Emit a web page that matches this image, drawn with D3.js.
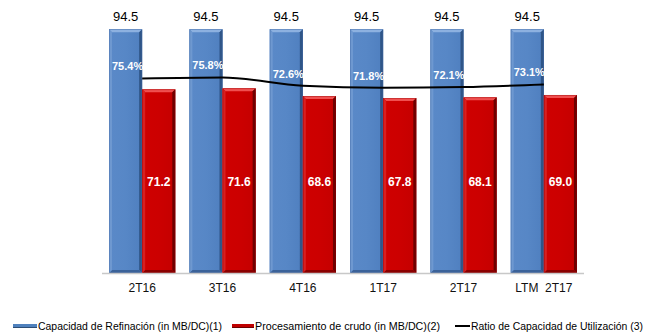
<!DOCTYPE html>
<html>
<head>
<meta charset="utf-8">
<script src="https://cdn.jsdelivr.net/npm/d3@7"></script>
<style>
  html, body { margin: 0; padding: 0; background: #fff; }
  svg { display: block; font-family: "Liberation Sans", Arial, sans-serif; }
</style>
</head>
<body>
<svg id="chart" width="651" height="335"></svg>
<script>
const categories = ["2T16", "3T16", "4T16", "1T17", "2T17", "LTM  2T17"];
const capacidad = [94.5, 94.5, 94.5, 94.5, 94.5, 94.5];
const procesamiento = [71.2, 71.6, 68.6, 67.8, 68.1, 69.0];
const ratio = [75.4, 75.8, 72.6, 71.8, 72.1, 73.1];
const legendLabels = [
  "Capacidad de Refinación (in MB/DC)(1)",
  "Procesamiento de crudo (in MB/DC)(2)",
  "Ratio de Capacidad de Utilización (3)"
];

const svg = d3.select("#chart");
const x0 = 102, x1 = 584, yBase = 273, yTop = 15;

const x = d3.scaleBand().domain(categories).range([x0, x1]).paddingInner(0.175).paddingOuter(0.0875);
const xs = d3.scaleBand().domain(["cap", "proc"]).range([0, x.bandwidth()]);
const y = d3.scaleLinear().domain([0, 100]).range([yBase, yTop]);
const yR = d3.scaleLinear().domain([0, 100]).range([yBase, yTop]);

const defs = svg.append("defs");
function grad(id, stops) {
  const g = defs.append("linearGradient").attr("id", id).attr("x1", 0).attr("x2", 1).attr("y1", 0).attr("y2", 0);
  stops.forEach(s => g.append("stop").attr("offset", s[0]).attr("stop-color", s[1]));
}
grad("gBlue", [[0, "#5a89c8"], [0.5, "#5787c6"], [1, "#4f7fbf"]]);
grad("gRed", [[0, "#cf0000"], [0.5, "#cc0000"], [1, "#c40000"]]);

const styles = {
  cap: { fill: "url(#gBlue)", top: "#8db1e0", right: "#2f5587", bottom: "#3b6299", left: "#6e98d0", edge: "#3d669e" },
  proc: { fill: "url(#gRed)", top: "#f05050", right: "#6e0000", bottom: "#8a0000", left: "#d82020", edge: "#900000" }
};

function bevelBar(g, xL, w, yT, key) {
  const st = styles[key];
  const b = 3, yB = yBase;
  g.append("rect").attr("x", xL).attr("y", yT).attr("width", w).attr("height", yB - yT).attr("fill", st.fill);
  const poly = (pts, c) => g.append("polygon").attr("points", pts.map(p => p.join(",")).join(" ")).attr("fill", c);
  poly([[xL, yT], [xL + w, yT], [xL + w - b, yT + b], [xL + b, yT + b]], st.top);
  poly([[xL + w, yT], [xL + w, yB], [xL + w - b, yB - b], [xL + w - b, yT + b]], st.right);
  poly([[xL, yB], [xL + w, yB], [xL + w - b, yB - b], [xL + b, yB - b]], st.bottom);
  poly([[xL, yT], [xL + b, yT + b], [xL + b, yB - b], [xL, yB]], st.left);
  g.append("rect").attr("x", xL + 0.5).attr("y", yT + 0.5).attr("width", w - 1).attr("height", yB - yT - 1)
    .attr("fill", "none").attr("stroke", st.edge).attr("stroke-width", 0.6).attr("stroke-opacity", 0.6);
}

const bars = svg.append("g");
categories.forEach((c, i) => {
  bevelBar(bars, x(c) + xs("cap"), xs.bandwidth(), y(capacidad[i]), "cap");
});
categories.forEach((c, i) => {
  bevelBar(bars, x(c) + xs("proc"), xs.bandwidth(), y(procesamiento[i]), "proc");
});

// baseline axis
svg.append("line").attr("x1", x0).attr("x2", x1).attr("y1", yBase + 0.5).attr("y2", yBase + 0.5)
  .attr("stroke", "#c8c8c8").attr("stroke-width", 1.5);

// x axis labels
const xAxis = d3.axisBottom(x).tickSize(0).tickPadding(0);
const gx = svg.append("g").attr("transform", `translate(0,${yBase})`).call(xAxis);
gx.select(".domain").remove();
gx.selectAll("text").attr("font-size", 12).attr("fill", "#111").attr("dy", null).attr("y", 19)
  .attr("font-family", "Liberation Sans, Arial, sans-serif").style("white-space", "pre");

// line
const cx = c => x(c) + x.bandwidth() / 2;
const line = d3.line().x((d, i) => cx(categories[i])).y(d => yR(d)).curve(d3.curveMonotoneX);
svg.append("path").datum(ratio).attr("d", line).attr("fill", "none").attr("stroke", "#000").attr("stroke-width", 2);

// value labels above blue bars
svg.append("g").selectAll("text").data(capacidad).join("text")
  .attr("x", (d, i) => x(categories[i]) + xs("cap") + xs.bandwidth() / 2)
  .attr("y", d => y(d) - 8)
  .attr("text-anchor", "middle").attr("font-size", 13).attr("fill", "#000")
  .text(d => d.toFixed(1));

// red value labels
svg.append("g").selectAll("text").data(procesamiento).join("text")
  .attr("x", (d, i) => x(categories[i]) + xs("proc") + xs.bandwidth() / 2)
  .attr("y", 186)
  .attr("text-anchor", "middle").attr("font-size", 12).attr("font-weight", "bold").attr("fill", "#fff")
  .text(d => d.toFixed(1));

// percent labels
svg.append("g").selectAll("text").data(ratio).join("text")
  .attr("x", (d, i) => x(categories[i]) + xs("cap") + xs.bandwidth() / 2 + 2)
  .attr("y", d => yR(d) - 8)
  .attr("text-anchor", "middle").attr("font-size", 11).attr("font-weight", "bold").attr("fill", "#fff")
  .text(d => d.toFixed(1) + "%");

// legend
const lg = svg.append("g").attr("font-size", 10.5).attr("fill", "#000");
const legendX = [13, 232, 455];
const legendTextW = [184, 185, 172];
const legendSw = [
  { w: 24, c: "#4f81bd", h: 4, edge: "#2c4d75" },
  { w: 22, c: "#c00000", h: 4, edge: "#6e0000" },
  { w: 15, c: "#000", h: 2, edge: "#000" }
];
legendLabels.forEach((t, i) => {
  const s = legendSw[i];
  lg.append("rect").attr("x", legendX[i]).attr("y", 326 - s.h / 2).attr("width", s.w).attr("height", s.h)
    .attr("fill", s.c);
  if (i < 2) lg.append("rect").attr("x", legendX[i]).attr("y", 326 + s.h / 2 - 1).attr("width", s.w).attr("height", 1).attr("fill", s.edge);
  lg.append("text").attr("x", legendX[i] + s.w + 1).attr("y", 330)
    .attr("textLength", legendTextW[i]).attr("lengthAdjust", "spacingAndGlyphs").text(t);
});
</script>
</body>
</html>
